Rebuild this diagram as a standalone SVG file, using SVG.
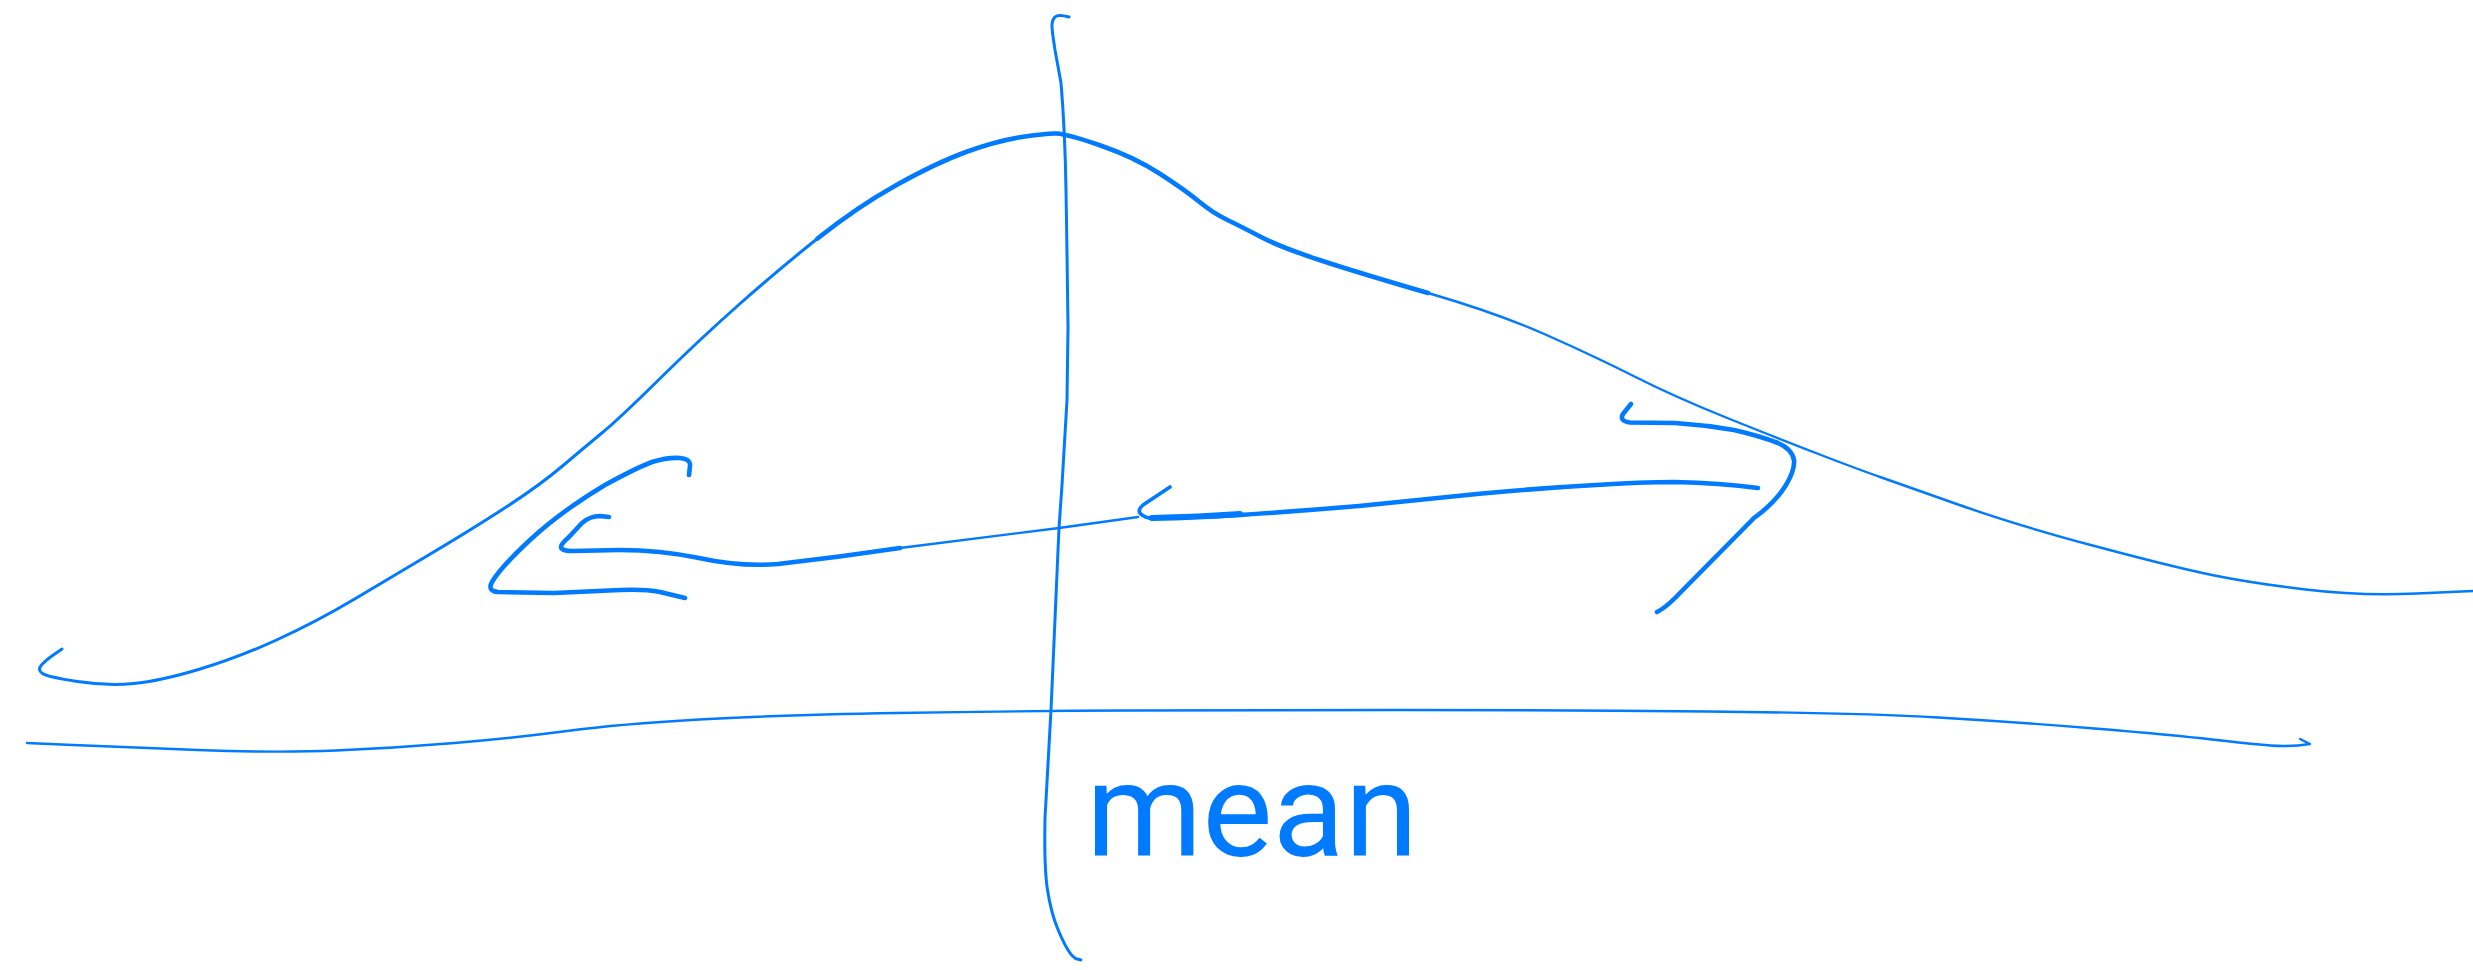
<svg xmlns="http://www.w3.org/2000/svg" width="2473" height="970" viewBox="0 0 2473 970">
<style>
.ink{fill:none;stroke:#007AFF;stroke-linecap:round;stroke-linejoin:round}
.w2{stroke-width:2.4}
.w25{stroke-width:3}
.w3{stroke-width:3.6}
.w4{stroke-width:4.6}
.w5{stroke-width:6}
.lbl{fill:#007AFF;font-family:Roboto,"DejaVu Sans","Liberation Sans",sans-serif;font-weight:400;font-size:132px}
</style>
<rect width="2473" height="970" fill="#ffffff"/>
<g id="distribution-curve">
<path class="ink w25" d="M 62,649 L 54,654.5 Q 46,660 41.5,665 Q 37,670 42.5,673.5 Q 48,677 77.5,681.5 Q 107,686 133.5,683.5 Q 160,681 198.5,669.5 Q 237,658 276.5,640 Q 316,622 355.5,598.5 Q 395,575 434.5,551.5 Q 474,528 507,506.5 Q 540,485 562.5,466 Q 585,447 602.5,432.5 Q 620,418 659.5,379 Q 699,340 738.5,305 Q 778,270 817.5,238.5"/>
<path class="ink w4" d="M 817.5,238.5 Q 857,207 896.5,185 Q 936,163 966,152 Q 996,141 1021.5,137 Q 1047,133 1057,133.5 Q 1067,134 1100.5,145.5 Q 1134,157 1159.5,173.5 Q 1185,190 1199,201.5 Q 1213,213 1226.5,219.5 Q 1240,226 1260,236.5 Q 1280,247 1319.5,260 Q 1359,273 1428,293"/>
<path class="ink w2" d="M 1428,293 Q 1497,313 1546.5,335 Q 1596,357 1635.5,377 Q 1675,397 1728.5,418.5 Q 1782,440 1821,455 Q 1860,470 1881.5,477.5 Q 1903,485 1959.5,505 Q 2016,525 2094.5,546 Q 2173,567 2212,575 Q 2251,583 2305.5,589.5 Q 2360,596 2416.5,593.5 L 2473,591"/>
</g>
<g id="x-axis">
<path class="ink w2" d="M 27,743 L 73,745 Q 119,747 198,750 Q 277,753 336,750.5 Q 395,748 454.5,743 Q 514,738 567,731 Q 620,724 699,719.5 Q 778,715 896.5,713 Q 1015,711 1127.5,710.5 Q 1240,710 1398,710 Q 1556,710 1708,711.5 Q 1860,713 1938,717.5 Q 2016,722 2094.5,728.5 Q 2173,735 2212,739.5 Q 2251,744 2270.5,745.5 Q 2290,747 2310,744 L 2300,739"/>
</g>
<g id="mean-line">
<path class="ink w25" d="M 1069,17 Q 1058,14 1055,17 Q 1052,20 1052,25 Q 1052,30 1053.5,40 L 1055,50 L 1061,83 Q 1065,130 1066,190 L 1067,253 L 1068,327 L 1067,400 L 1062,485 L 1059,528 L 1051,710 L 1045,818 Q 1044,868 1047.5,890 Q 1051,912 1057,927 Q 1063,942 1068,950 Q 1073,958 1077,959 L 1081,960"/>
</g>
<g id="connectors">
<g id="left-arrow">
<path class="ink w2" d="M 1138,517 L 1059,528 L 900,548"/>
<path class="ink w4" d="M 900,548 Q 840,557 778,564 Q 740,567 699,558 Q 660,550 620,550 L 573,551 Q 561,551 561,547 Q 561,544 569,537 L 582,523 Q 590,516 600,516 L 609,517"/>
<path class="ink w4" d="M 689,475 L 690,466 Q 691,459 680,458 Q 668,457 652,462 Q 636,468 605,485 Q 560,512 530,540 Q 500,568 492,582 Q 487,591 498,592 L 554,593 L 620,590 Q 645,589 660,592 L 685,598"/>
</g>
<g id="right-arrow">
<path class="ink w3" d="M 1170,487 L 1143,505 Q 1136,511 1142,515 Q 1146,518 1150,518"/>
<path class="ink w4" d="M 1150,518 Q 1200,517 1240,515 Q 1300,511 1359,506 Q 1420,500 1477,494 Q 1540,488 1596,485 Q 1640,482 1675,482 Q 1720,483 1758,488"/>
<path class="ink w5" d="M 1152,518 Q 1200,517 1240,514"/>
<path class="ink w4" d="M 1631,404 L 1623,414 Q 1619,421 1630,422.5 L 1675,423 Q 1705,425 1734,430 Q 1760,436 1778,443 Q 1792,449 1794,460 Q 1795,470 1786,485 Q 1775,503 1754,518 L 1675,598 Q 1665,608 1657,612"/>
</g>
</g>
<g id="mean-label">
<text class="lbl" x="1086" y="856" textLength="332" lengthAdjust="spacingAndGlyphs">mean</text>
</g>
</svg>
